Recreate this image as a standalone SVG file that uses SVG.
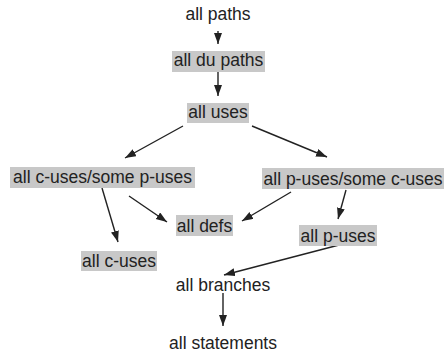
<svg xmlns="http://www.w3.org/2000/svg" width="445" height="356" viewBox="0 0 445 356">
<style>
.box{fill:#c8c8c8}
.t{font-family:"Liberation Sans",Arial,sans-serif;font-size:17.5px;fill:#222;text-anchor:middle}
.c{stroke:#222;stroke-width:1.4;fill:none;marker-end:url(#ah)}
</style>
<defs>
<marker id="ah" markerUnits="userSpaceOnUse" markerWidth="12" markerHeight="10" refX="11" refY="4" orient="auto">
<path d="M0,0 L11,4 L0,8 Z" fill="#222"/>
</marker>
</defs>
<rect width="445" height="356" fill="#fff"/>
<g id="connectors">
<line class="c" x1="218" y1="31" x2="218" y2="44"/>
<line class="c" x1="218" y1="71" x2="218" y2="96"/>
<line class="c" x1="183" y1="126" x2="125" y2="158"/>
<line class="c" x1="252" y1="126" x2="327" y2="157"/>
<line class="c" x1="102" y1="188" x2="118" y2="242"/>
<line class="c" x1="129" y1="196" x2="167" y2="222"/>
<line class="c" x1="291" y1="192" x2="242" y2="221"/>
<line class="c" x1="346" y1="190" x2="338" y2="219"/>
<line class="c" x1="339" y1="245" x2="224" y2="275"/>
<line class="c" x1="223" y1="293" x2="223" y2="326"/>
</g>
<g id="n-allpaths"><text class="t" x="218" y="20">all paths</text></g>
<g id="n-alldupaths"><rect class="box" x="172" y="51" width="93" height="21"/><text class="t" x="218.5" y="66">all du paths</text></g>
<g id="n-alluses"><rect class="box" x="187" y="103" width="62" height="20"/><text class="t" x="218" y="118">all uses</text></g>
<g id="n-cuses-some"><rect class="box" x="10" y="167" width="185" height="21"/><text class="t" x="102.5" y="183">all c-uses/some p-uses</text></g>
<g id="n-puses-some"><rect class="box" x="262" y="168" width="182" height="21"/><text class="t" x="353" y="184.5">all p-uses/some c-uses</text></g>
<g id="n-alldefs"><rect class="box" x="176" y="215" width="57" height="21"/><text class="t" x="204.5" y="231.5">all defs</text></g>
<g id="n-allcuses"><rect class="box" x="81" y="251" width="76" height="20"/><text class="t" x="119" y="266.5">all c-uses</text></g>
<g id="n-allpuses"><rect class="box" x="299" y="225" width="78" height="21"/><text class="t" x="338" y="241.5">all p-uses</text></g>
<g id="n-allbranches"><text class="t" x="223" y="290.5">all branches</text></g>
<g id="n-allstatements"><text class="t" x="223" y="349">all statements</text></g>
</svg>
